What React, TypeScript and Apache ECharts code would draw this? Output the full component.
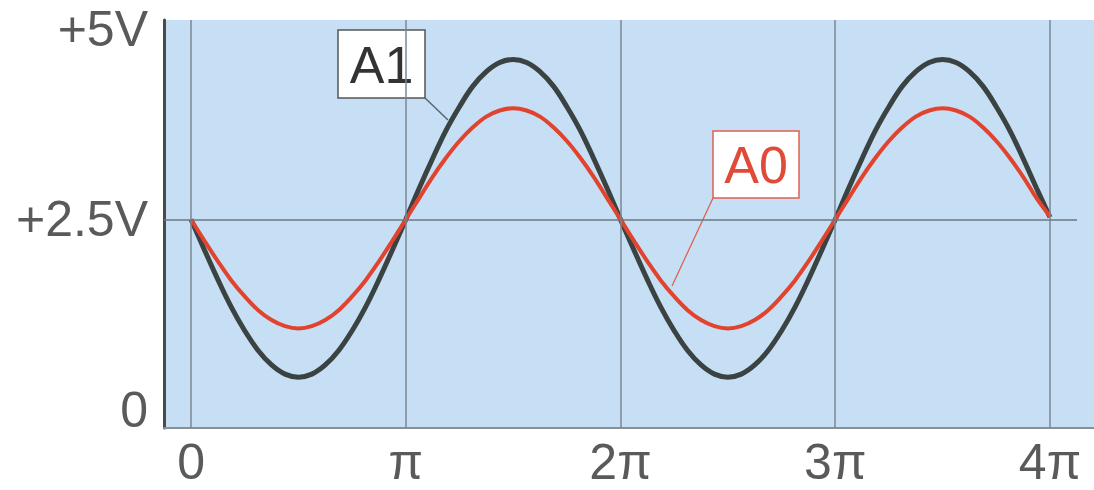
import React, { useEffect, useRef } from "react";
import * as echarts from "echarts";

// x positions in units of π
const xValues: number[] = [
  0, 0.0625, 0.125, 0.1875, 0.25, 0.3125, 0.375, 0.4375, 0.5, 0.5625, 0.625, 0.6875, 0.75, 0.8125, 0.875, 0.9375,
  1, 1.0625, 1.125, 1.1875, 1.25, 1.3125, 1.375, 1.4375, 1.5, 1.5625, 1.625, 1.6875, 1.75, 1.8125, 1.875, 1.9375,
  2, 2.0625, 2.125, 2.1875, 2.25, 2.3125, 2.375, 2.4375, 2.5, 2.5625, 2.625, 2.6875, 2.75, 2.8125, 2.875, 2.9375,
  3, 3.0625, 3.125, 3.1875, 3.25, 3.3125, 3.375, 3.4375, 3.5, 3.5625, 3.625, 3.6875, 3.75, 3.8125, 3.875, 3.9375,
  4,
];
const a1Values: number[] = [
  2.5, 2.1, 1.71, 1.35, 1.04, 0.78, 0.59, 0.47, 0.43, 0.47, 0.59, 0.78, 1.04, 1.35, 1.71, 2.1,
  2.5, 2.91, 3.3, 3.67, 3.98, 4.25, 4.44, 4.56, 4.6, 4.56, 4.44, 4.25, 3.98, 3.67, 3.3, 2.91,
  2.5, 2.1, 1.71, 1.35, 1.04, 0.78, 0.59, 0.47, 0.43, 0.47, 0.59, 0.78, 1.04, 1.35, 1.71, 2.1,
  2.5, 2.91, 3.3, 3.67, 3.98, 4.25, 4.44, 4.56, 4.6, 4.56, 4.44, 4.25, 3.98, 3.67, 3.3, 2.91,
  2.53,
];
const a0Values: number[] = [
  2.5, 2.22, 1.95, 1.7, 1.49, 1.31, 1.18, 1.1, 1.07, 1.1, 1.18, 1.31, 1.49, 1.7, 1.95, 2.22,
  2.5, 2.78, 3.06, 3.31, 3.53, 3.71, 3.85, 3.93, 3.96, 3.93, 3.85, 3.71, 3.53, 3.31, 3.06, 2.78,
  2.5, 2.22, 1.95, 1.7, 1.49, 1.31, 1.18, 1.1, 1.07, 1.1, 1.18, 1.31, 1.49, 1.7, 1.95, 2.22,
  2.5, 2.78, 3.06, 3.31, 3.53, 3.71, 3.85, 3.93, 3.96, 3.93, 3.85, 3.71, 3.53, 3.31, 3.06, 2.78,
  2.54,
];
const xTickValues: number[] = [0, 1, 2, 3, 4];
const xTickLabels: string[] = ["0", "π", "2π", "3π", "4π"];
const yTickValues: number[] = [0, 2.5, 5];
const yTickLabels: string[] = ["0", "+2.5V", "+5V"];
const midLevel = 2.5;

const FONT = "'Liberation Sans', Arial, sans-serif";

export default function App() {
  const ref = useRef<HTMLDivElement>(null);
  useEffect(() => {
    if (!ref.current) return;
    const chart = echarts.init(ref.current, undefined, { renderer: "svg" });
    const xMin = -0.126;
    const xMax = 4.205;
    const option: any = {
      animation: false,
      grid: {
        left: 164,
        right: 0,
        top: 20,
        bottom: 62,
        show: true,
        backgroundColor: "#c6dff4",
        borderWidth: 0,
      },
      xAxis: {
        type: "value",
        min: xMin,
        max: xMax,
        axisLine: { show: true, onZero: false, lineStyle: { color: "#8a8f94", width: 2 } },
        axisTick: { show: false },
        splitLine: { show: false },
        axisLabel: {
          customValues: xTickValues,
          formatter: (v: number) => {
            const i = xTickValues.findIndex((t) => Math.abs(t - v) < 1e-6);
            return i >= 0 ? xTickLabels[i] : "";
          },
          fontSize: 50,
          fontFamily: FONT,
          color: "#5a5a5a",
          margin: 9,
        },
      },
      yAxis: {
        type: "value",
        min: -0.237,
        max: 5.118,
        axisLine: { show: true, onZero: false, lineStyle: { color: "#4a4a4a", width: 3 } },
        axisTick: { show: false },
        splitLine: { show: false },
        axisLabel: {
          customValues: yTickValues,
          formatter: (v: number) => {
            const i = yTickValues.findIndex((t) => Math.abs(t - v) < 1e-6);
            return i >= 0 ? yTickLabels[i] : "";
          },
          fontSize: 50,
          fontFamily: FONT,
          color: "#5a5a5a",
          margin: 16,
        },
      },
      graphic: [
        {
          type: "rect",
          z: 1,
          shape: { x: 338, y: 30, width: 87, height: 68 },
          style: { fill: "#ffffff", stroke: "#555555", lineWidth: 1.5 },
        },
        {
          type: "text",
          z: 1,
          x: 381.5,
          y: 65,
          style: {
            text: "A1",
            fontSize: 52,
            fontFamily: FONT,
            fill: "#333333",
            align: "center",
            verticalAlign: "middle",
          },
        },
        {
          type: "line",
          z: 1,
          shape: { x1: 425, y1: 98, x2: 448, y2: 120 },
          style: { stroke: "#5a6470", lineWidth: 1.5 },
        },
        {
          type: "rect",
          z: 1,
          shape: { x: 713, y: 131, width: 86, height: 67 },
          style: { fill: "#ffffff", stroke: "#e06050", lineWidth: 1.5 },
        },
        {
          type: "text",
          z: 1,
          x: 756,
          y: 165,
          style: {
            text: "A0",
            fontSize: 52,
            fontFamily: FONT,
            fill: "#e04a38",
            align: "center",
            verticalAlign: "middle",
          },
        },
        {
          type: "line",
          z: 1,
          shape: { x1: 713, y1: 198, x2: 672, y2: 286 },
          style: { stroke: "#e05a48", lineWidth: 1.2 },
        },
      ],
      series: [
        {
          type: "line",
          name: "grid",
          data: [],
          silent: true,
          z: 2,
          markLine: {
            silent: true,
            symbol: ["none", "none"],
            label: { show: false },
            animation: false,
            data: [
              ...xTickValues.map((v) => ({
                xAxis: v,
                lineStyle: { color: "#7c8792", width: 1.5, type: "solid" },
              })),
              [
                { coord: [xMin, midLevel], lineStyle: { color: "#6c7680", width: 1.5, type: "solid" } },
                { coord: [4.126, midLevel] },
              ],
            ],
          },
        },
        {
          type: "line",
          name: "A1",
          z: 3,
          data: xValues.map((x, i) => [x, a1Values[i]]),
          smooth: 0.4,
          showSymbol: false,
          lineStyle: { color: "#3b4242", width: 5 },
        },
        {
          type: "line",
          name: "A0",
          z: 4,
          data: xValues.map((x, i) => [x, a0Values[i]]),
          smooth: 0.4,
          showSymbol: false,
          lineStyle: { color: "#e2432f", width: 4 },
        },
      ],
    };
    chart.setOption(option);
    return () => chart.dispose();
  }, []);
  return (
    <div
      ref={ref}
      style={{ position: "fixed", left: 0, top: 0, width: 1094, height: 490, background: "#ffffff" }}
    />
  );
}
